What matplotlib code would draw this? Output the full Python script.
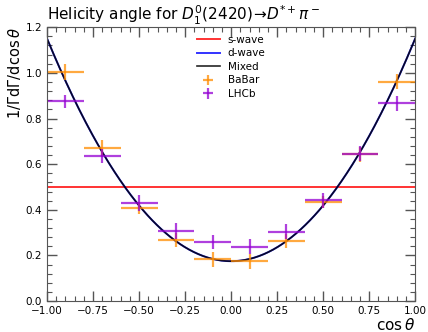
import numpy as np
import matplotlib
matplotlib.use("Agg")
import matplotlib.pyplot as plt
from matplotlib.ticker import MultipleLocator

# bin centres and half-widths in cos(theta)
bin_centres = [-0.9, -0.7, -0.5, -0.3, -0.1, 0.1, 0.3, 0.5, 0.7, 0.9]
bin_halfwidth = 0.1

babar_y = [1.005, 0.672, 0.408, 0.268, 0.183, 0.174, 0.262, 0.436, 0.643, 0.961]
babar_err = [0.035, 0.035, 0.025, 0.030, 0.034, 0.033, 0.030, 0.026, 0.033, 0.033]

lhcb_y = [0.875, 0.636, 0.432, 0.308, 0.259, 0.239, 0.305, 0.441, 0.645, 0.866]
lhcb_err = [0.030, 0.030, 0.035, 0.035, 0.030, 0.032, 0.034, 0.033, 0.033, 0.034]

# angular distributions a + b cos^2(theta), normalised over [-1, 1]
s_wave = (0.5, 0.0)
d_wave = (0.175, 0.975)
mixed = (0.175, 0.975)

x = np.linspace(-1, 1, 400)


def shape(coef):
    a, b = coef
    return a + b * x**2


fig, ax = plt.subplots(figsize=(4.28, 3.32), dpi=100)
fig.subplots_adjust(left=0.11, right=0.97, top=0.918, bottom=0.093)

ax.plot(x, shape(s_wave), color="red", lw=1.4, alpha=0.8, label="s-wave")
ax.plot(x, shape(d_wave), color="blue", lw=1.4, alpha=0.8, label="d-wave")
ax.plot(x, shape(mixed), color="black", lw=1.2, alpha=0.85, label="Mixed")

ax.errorbar(bin_centres, babar_y, xerr=bin_halfwidth, yerr=babar_err,
            fmt="none", ecolor="darkorange", elinewidth=1.6, alpha=0.75,
            label="BaBar")
ax.errorbar(bin_centres, lhcb_y, xerr=bin_halfwidth, yerr=lhcb_err,
            fmt="none", ecolor="darkviolet", elinewidth=1.6, alpha=0.75,
            label="LHCb")

ax.set_xlim(-1, 1)
ax.set_ylim(0, 1.2)
ax.xaxis.set_major_locator(MultipleLocator(0.25))
ax.xaxis.set_minor_locator(MultipleLocator(0.05))
ax.yaxis.set_major_locator(MultipleLocator(0.2))
ax.yaxis.set_minor_locator(MultipleLocator(0.04))
ax.tick_params(which="both", direction="in", top=True, right=True,
               color="#555555", labelsize=7.5)
ax.tick_params(which="major", length=7, width=1.0)
ax.tick_params(which="minor", length=3.5, width=0.8)
for sp in ax.spines.values():
    sp.set_color("#555555")

ax.set_xlabel(r"$\cos\theta$", loc="right", fontsize=11, labelpad=1)
ax.set_ylabel(r"$1/\Gamma\mathrm{d}\Gamma/\mathrm{d}\cos\theta$",
              loc="top", fontsize=10.5, labelpad=2)
ax.set_title(r"Helicity angle for $D_1^0(2420)\!\rightarrow\!D^{*+}\pi^-$",
             loc="left", fontsize=11, pad=3)

ax.legend(loc="upper center", frameon=False, fontsize=7.5,
          handlelength=2.2, labelspacing=0.35, borderaxespad=0.3)

fig.savefig("out.png")
